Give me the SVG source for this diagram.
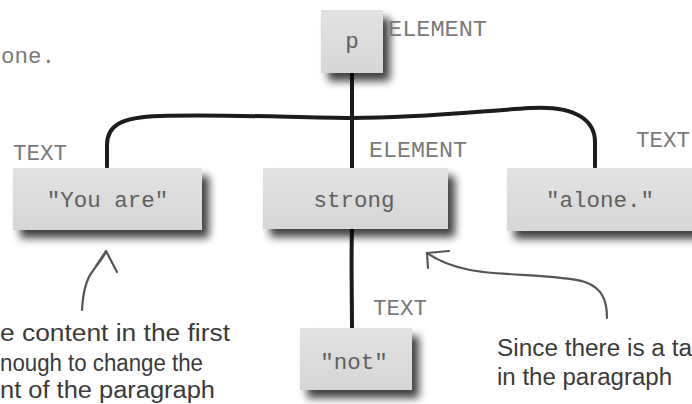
<svg xmlns="http://www.w3.org/2000/svg" width="692" height="404" viewBox="0 0 692 404">
  <defs>
    <filter id="shadow" x="-20%" y="-20%" width="150%" height="160%">
      <feDropShadow dx="7" dy="8" stdDeviation="4" flood-color="#000" flood-opacity="0.75"/>
    </filter>
    <linearGradient id="boxfill" x1="0" y1="0" x2="0" y2="1">
      <stop offset="0" stop-color="#e2e2e2"/>
      <stop offset="1" stop-color="#d6d6d6"/>
    </linearGradient>
  </defs>
  <style>
    .box { fill: url(#boxfill); filter: url(#shadow); }
    .node { font-family: "Liberation Mono", "DejaVu Sans Mono", monospace; font-size: 22.5px; fill: #606060; text-anchor: middle; }
    .label { font-family: "Liberation Mono", "DejaVu Sans Mono", monospace; font-size: 22.5px; fill: #7a7a7a; }
    .hand { font-family: "Liberation Sans", "DejaVu Sans", sans-serif; font-size: 23px; fill: #3a3a3a; }
    .conn { fill: none; stroke: #1c1c1c; stroke-width: 4; stroke-linecap: round; }
    .arrow { fill: none; stroke: #555; stroke-width: 2.2; stroke-linecap: round; stroke-linejoin: round; }
  </style>
  <rect width="692" height="404" fill="#ffffff"/>

  <text class="label" x="1" y="63">one.</text>

  <g id="connectors">
    <path class="conn" d="M352,73 L352,168"/>
    <path class="conn" d="M107,167 L107,145 C107,126 120,117 160,116 C230,114 300,118 352,118 C420,118 470,112 530,108 C578,105 595,122 595,142 L595,167"/>
    <path class="conn" d="M352,229 C351,260 352,300 352,328"/>
  </g>

  <g id="node-p">
    <rect class="box" x="321" y="10" width="62" height="63"/>
    <text class="node" x="352" y="48">p</text>
    <text class="label" x="388" y="36" textLength="99" lengthAdjust="spacingAndGlyphs">ELEMENT</text>
  </g>

  <g id="node-you-are">
    <rect class="box" x="13" y="168" width="189" height="62"/>
    <text class="node" x="107.5" y="207">"You are"</text>
    <text class="label" x="13" y="160">TEXT</text>
  </g>

  <g id="node-strong">
    <rect class="box" x="263" y="168" width="185" height="61"/>
    <text class="node" x="354" y="207">strong</text>
    <text class="label" x="369" y="157" textLength="98" lengthAdjust="spacingAndGlyphs">ELEMENT</text>
  </g>

  <g id="node-alone">
    <rect class="box" x="507" y="168" width="190" height="63"/>
    <text class="node" x="600" y="207">"alone."</text>
    <text class="label" x="636" y="147">TEXT</text>
  </g>

  <g id="node-not">
    <rect class="box" x="300" y="328" width="112" height="62"/>
    <text class="node" x="354" y="369">"not"</text>
    <text class="label" x="373" y="315">TEXT</text>
  </g>

  <g id="annotation-left">
    <path class="arrow" d="M82,310 C83,292 86,280 92,272 C97,265 102,259 106,252"/>
    <path class="arrow" d="M96,266 L106,251 L117,272"/>
    <text class="hand" x="0" y="341" textLength="230" lengthAdjust="spacingAndGlyphs">e content in the first</text>
    <text class="hand" x="0" y="371" textLength="203" lengthAdjust="spacingAndGlyphs">nough to change the</text>
    <text class="hand" x="0" y="398" textLength="215" lengthAdjust="spacingAndGlyphs">nt of the paragraph</text>
  </g>

  <g id="annotation-right">
    <path class="arrow" d="M607,318 C607,300 602,288 585,282 C560,274 500,276 470,270 C450,266 437,260 427,253"/>
    <path class="arrow" d="M449,251 L427,253 L428,268"/>
    <text class="hand" x="497" y="356" textLength="195" lengthAdjust="spacingAndGlyphs">Since there is a ta</text>
    <text class="hand" x="497" y="385" textLength="175" lengthAdjust="spacingAndGlyphs">in the paragraph</text>
  </g>
</svg>
